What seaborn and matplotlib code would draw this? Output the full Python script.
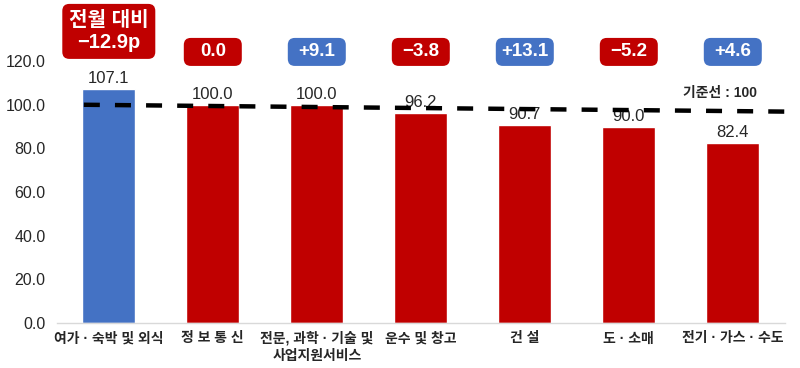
import matplotlib
matplotlib.use("Agg")
import matplotlib.pyplot as plt
import matplotlib.transforms as mtransforms
from matplotlib.patches import FancyBboxPatch
import seaborn as sns
import pandas as pd

# data
categories = ['여가 · 숙박 및 외식', '정 보 통 신', '전문, 과학 · 기술 및\n사업지원서비스',
              '운수 및 창고', '건 설', '도 · 소매', '전기 · 가스 · 수도']
values = [107.1, 100.0, 100.0, 96.2, 90.7, 90.0, 82.4]
changes = ['전월 대비\n−12.9p', '0.0', '+9.1', '−3.8', '+13.1', '−5.2', '+4.6']
bar_kind = ['up', 'down', 'down', 'down', 'down', 'down', 'down']
change_kind = ['down', 'down', 'up', 'down', 'up', 'down', 'up']
baseline = 100
baseline_label = '기준선 : 100'

RED = '#C00000'
BLUE = '#4472C4'
kind_color = {'up': BLUE, 'down': RED}

sns.set_theme(style='white')
plt.rcParams['font.family'] = ['Liberation Sans', 'Noto Sans CJK KR', 'DejaVu Sans']
plt.rcParams['axes.unicode_minus'] = False

df = pd.DataFrame({'cat': categories, 'val': values, 'kind': bar_kind})

fig = plt.figure(figsize=(8, 3.68), dpi=100)
ax = fig.add_axes([0.071, 0.122, 0.91, 0.712])

sns.barplot(data=df, x='cat', y='val', hue='cat',
            palette=[kind_color[k] for k in bar_kind],
            width=0.51, legend=False, ax=ax, saturation=1)

ax.set_xlim(-0.5, 6.5)
ax.set_ylim(0, 120)
ax.set_yticks(range(0, 121, 20))
ax.set_yticklabels([f'{t:.1f}' for t in range(0, 121, 20)], fontsize=11.5)
ax.set_xlabel('')
ax.set_ylabel('')
ax.tick_params(axis='y', length=0, pad=8)
ax.tick_params(axis='x', length=0, pad=6)
for lab in ax.get_xticklabels():
    lab.set_fontsize(10)
    lab.set_fontweight('bold')
    lab.set_linespacing(1.3)
for s in ['top', 'right', 'left']:
    ax.spines[s].set_visible(False)
ax.spines['bottom'].set_color('#D9D9D9')
ax.spines['bottom'].set_linewidth(1)

# value labels
for i, v in enumerate(values):
    ax.annotate(f'{v:.1f}', (i, v), xytext=(0, 2), textcoords='offset points',
                ha='center', va='bottom', fontsize=12)

# dashed reference line (drawn slightly tilted like the original)
line_tilt = 3.2
ax.plot([-0.24, 6.64], [baseline, baseline - line_tilt], color='black', lw=3.2,
        dashes=(3.6, 3.4), clip_on=False, zorder=5)
ax.text(5.88, baseline + 5.4, baseline_label, ha='center', va='center',
        fontsize=10, fontweight='bold')

# change boxes above the bars
for i, (txt, k) in enumerate(zip(changes, change_kind)):
    if i == 0:
        w, h, yc, fs = 0.93, 0.55, 133.6, 14.5
    else:
        w, h, yc, fs = 0.58, 0.28, 124.2, 13.5
    trans = fig.dpi_scale_trans + mtransforms.ScaledTranslation(i, yc, ax.transData)
    box = FancyBboxPatch((-w / 2, -h / 2), w, h,
                         boxstyle='round,pad=0,rounding_size=0.07',
                         transform=trans, facecolor=kind_color[k],
                         edgecolor='none', clip_on=False)
    ax.add_patch(box)
    ax.text(i, yc, txt, ha='center', va='center', color='white',
            fontsize=fs, fontweight='bold', linespacing=1.15, clip_on=False)

fig.savefig('out.png', dpi=100)
